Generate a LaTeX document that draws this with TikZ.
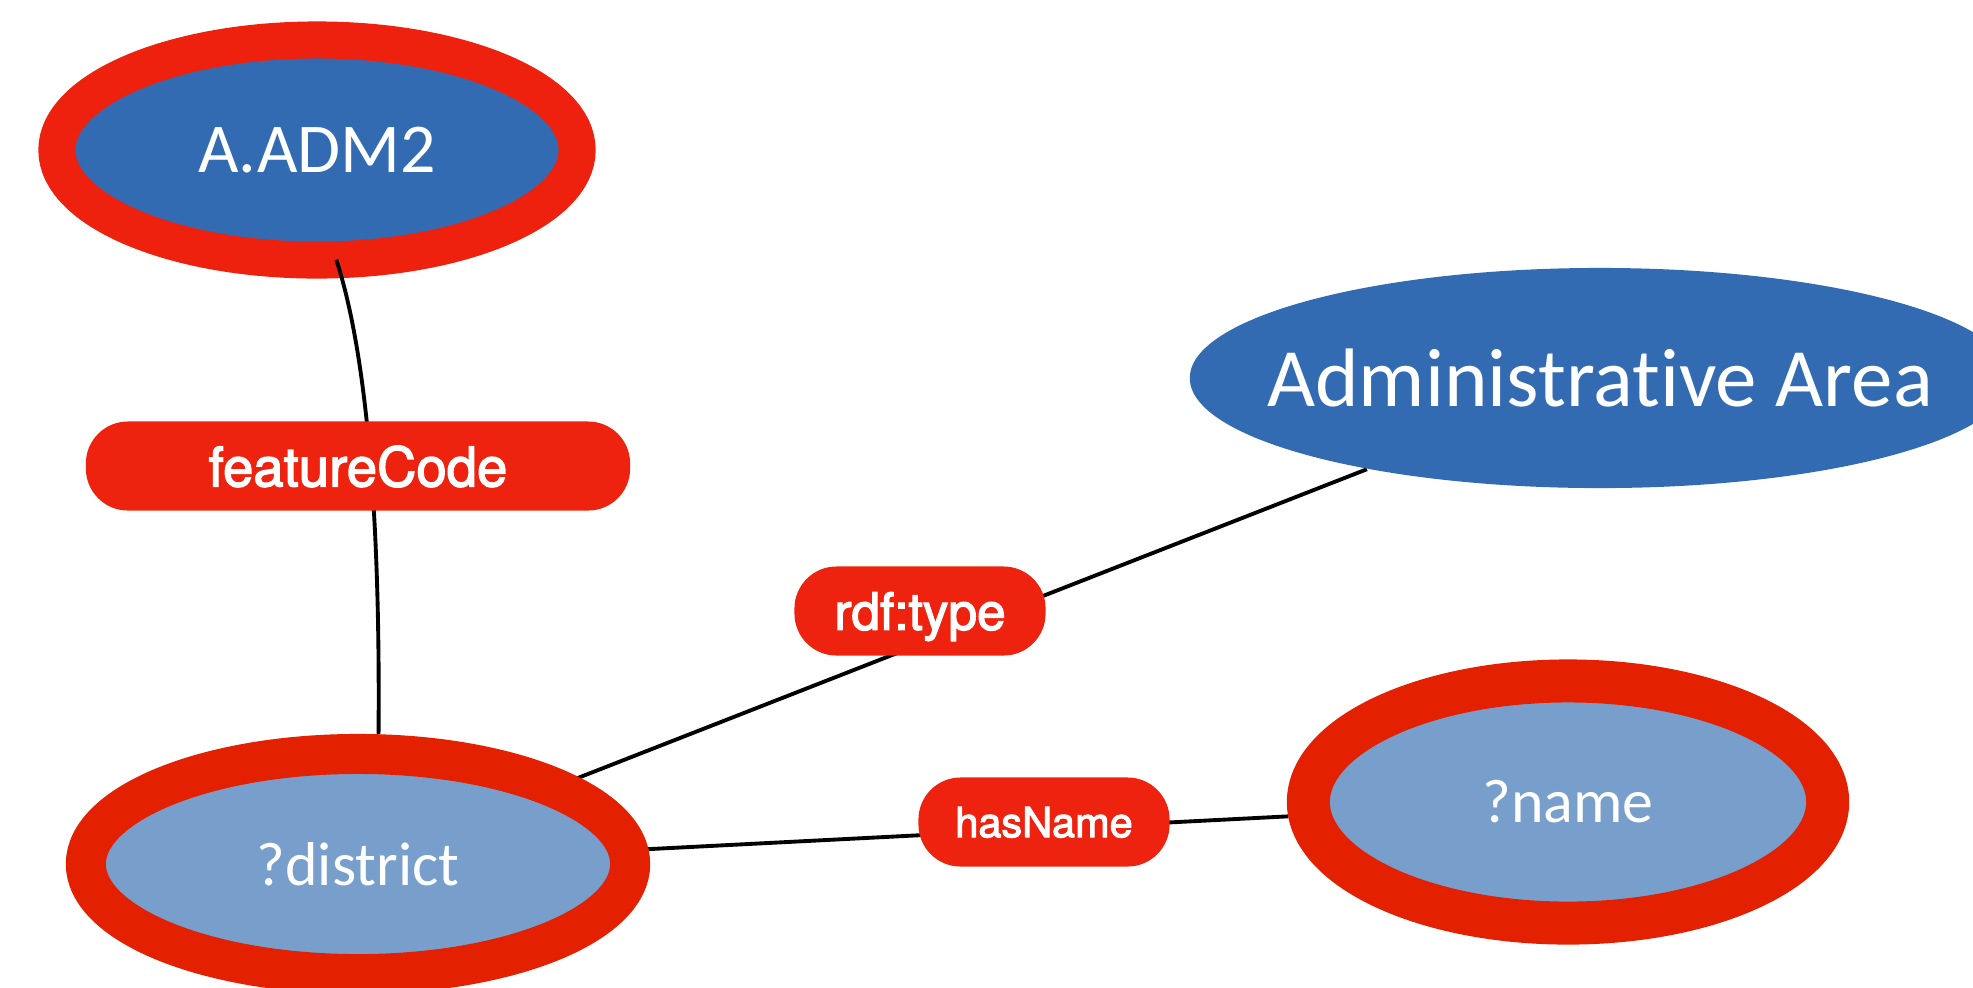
\documentclass[tikz,border=0pt]{standalone}
\usepackage{fontspec}
\usetikzlibrary{shapes.geometric, backgrounds}
\newfontfamily\gillfont[Ligatures=NoCommon]{Carlito}
\newfontfamily\labelfont[FakeBold=2.5]{TeX Gyre Heros}
\definecolor{classblue}{RGB}{51,107,179}
\definecolor{varblue}{RGB}{120,159,204}
\definecolor{ringred}{RGB}{237,33,14}
\definecolor{varred}{RGB}{227,32,0}
\definecolor{pillred}{RGB}{237,35,15}

\begin{document}
\begin{tikzpicture}[x=0.01cm, y=-0.01cm,
    classnode/.style={ellipse, fill=classblue, inner sep=0pt, text=white,
        font=\gillfont\fontsize{19.9pt}{24pt}\selectfont},
    varnode/.style={ellipse, fill=varblue, draw=varred, inner sep=0pt, text=white,
        font=\gillfont\fontsize{17.6pt}{21pt}\selectfont},
    pill/.style={rectangle, rounded corners=0.42cm, fill=pillred, text=white,
        minimum height=0.89cm, text depth=0pt, inner sep=0pt,
        font=\labelfont\fontsize{15.5pt}{19pt}\selectfont},
    edge/.style={black, line width=1.1pt}]
    \useasboundingbox (0,0) rectangle (1973,987);
    % Klasse und Variablen
    \node[classnode, inner xsep=-0.6cm, minimum width=8.2cm, minimum height=2.2cm,
        font=\gillfont\fontsize{23.6pt}{28pt}\selectfont] (area) at (1600,378) {Administrative Area};
    \node[varnode, line width=0.40cm, minimum width=5.44cm, minimum height=2.2cm] (district) at (358,864) {?district};
    \node[varnode, line width=0.43cm, minimum width=5.19cm, minimum height=2.42cm] (name) at (1568,802) {?name};
    % Properties
    \node[pill, minimum width=5.44cm] (featurecode) at (358,466) {featureCode};
    \node[pill, minimum width=2.51cm, font=\labelfont\fontsize{14.6pt}{17pt}\selectfont] (rdftype) at (920,611) {rdf:type};
    \node[pill, minimum width=2.51cm, font=\labelfont\fontsize{11.8pt}{14pt}\selectfont] (hasname) at (1044,822) {hasName};
    % Kanten hinter den Knoten
    \begin{pgfonlayer}{background}
        \node[classnode, draw=ringred, line width=0.37cm, outer sep=0pt,
            minimum width=5.2cm, minimum height=2.2cm] (adm2) at (317,150) {A.ADM2};
        \draw[edge] (adm2.-80) .. controls (372,370) and (380,560) .. (district.81);
        \draw[edge] (district) -- (area);
        \draw[edge] (district) -- (name);
    \end{pgfonlayer}
\end{tikzpicture}
\end{document}
